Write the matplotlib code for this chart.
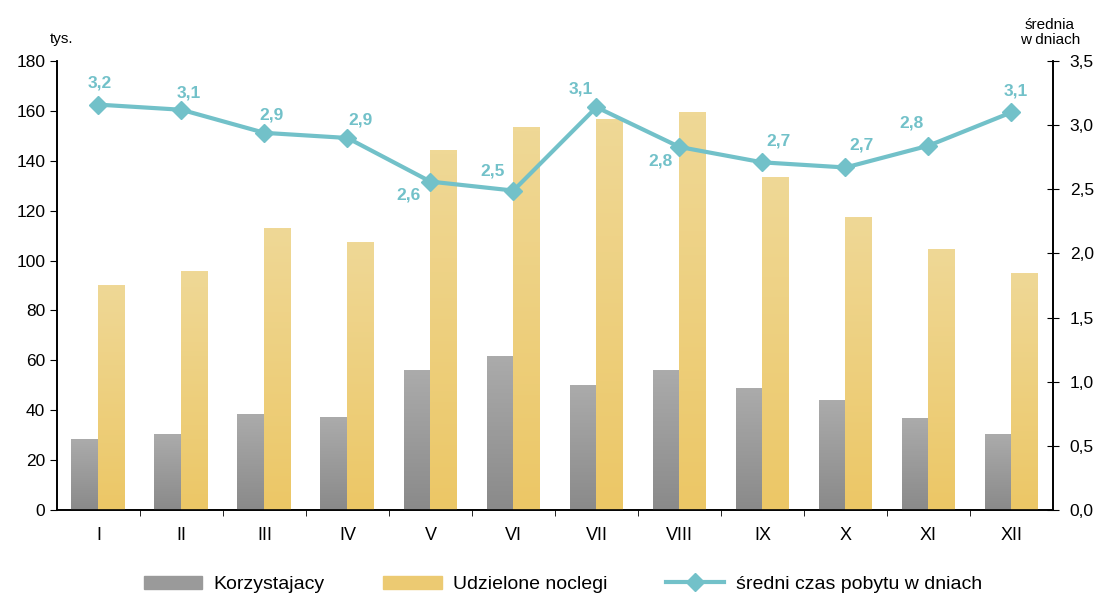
import numpy as np
import matplotlib.pyplot as plt
from matplotlib.patches import Patch
from matplotlib.lines import Line2D
from matplotlib.colors import LinearSegmentedColormap

plt.rcParams['font.family'] = ['Liberation Sans', 'DejaVu Sans']

months = ['I', 'II', 'III', 'IV', 'V', 'VI', 'VII', 'VIII', 'IX', 'X', 'XI', 'XII']
korzystajacy = [28.4, 30.4, 38.4, 37.2, 56.0, 61.6, 50.0, 56.0, 48.8, 44.0, 36.8, 30.4]
noclegi = [90.0, 95.6, 112.8, 107.2, 144.0, 153.2, 156.4, 159.2, 133.2, 117.2, 104.4, 94.8]
sredni = [3.16, 3.12, 2.94, 2.90, 2.56, 2.49, 3.14, 2.83, 2.71, 2.67, 2.84, 3.10]
sredni_lab = ['3,2', '3,1', '2,9', '2,9', '2,6', '2,5', '3,1', '2,8', '2,7', '2,7', '2,8', '3,1']
# label offsets in pixels (dx, dy)
lab_off = [(1, 22), (7, 17), (7, 18), (13, 18), (-22, -13), (-21, 20),
           (-16, 18), (-19, -14), (16, 21), (16, 22), (-17, 23), (4, 21)]

gray_c = '#9a9a9a'
yel_c = '#ecca72'
line_c = '#72c1c9'

fig = plt.figure(figsize=(11.04, 5.93), dpi=100)
ax = fig.add_axes([0.0516, 0.140, 0.9022, 0.7571])
ax2 = ax.twinx()

x = np.arange(len(months))
w = 0.325
b1 = ax.bar(x - w/2, korzystajacy, w, color=gray_c, zorder=2)
b2 = ax.bar(x + w/2, noclegi, w, color=yel_c, zorder=2)

# vertical gradient fill on bars
grad = np.linspace(0, 1, 100).reshape(-1, 1)
cm_gray = LinearSegmentedColormap.from_list('g', ['#8a8a8a', '#ababab'])
cm_yel = LinearSegmentedColormap.from_list('y', ['#ecc766', '#efd896'])
for bars, cm in ((b1, cm_gray), (b2, cm_yel)):
    for r in bars:
        x0, y0 = r.get_x(), r.get_y()
        ax.imshow(grad, extent=[x0, x0 + r.get_width(), y0, y0 + r.get_height()],
                  origin='lower', aspect='auto', cmap=cm, zorder=3)

ax.set_xlim(-0.5, 11.5)
ax.set_ylim(0, 180)
ax.set_yticks(range(0, 181, 20))
ax.set_xticks(x)
ax.set_xticklabels(months, fontsize=13)
ax.set_xticks(np.arange(0.5, 11.5, 1), minor=True)
ax.tick_params(axis='x', which='major', length=0, pad=12)
ax.tick_params(axis='x', which='minor', length=4, direction='out')
ax.tick_params(axis='y', labelsize=12.5, length=5, direction='out')

ax2.plot(x, sredni, color=line_c, lw=3, marker='D', ms=9, zorder=5)
for xi, v, s, (dx, dy) in zip(x, sredni, sredni_lab, lab_off):
    ax2.annotate(s, (xi, v), xytext=(dx, dy), textcoords='offset pixels',
                 ha='center', va='center', color=line_c, fontsize=12.5, fontweight='bold')
ax2.set_ylim(0, 3.5)
ax2.set_yticks(np.arange(0, 3.51, 0.5))
ax2.set_yticklabels([f'{t:.1f}'.replace('.', ',') for t in np.arange(0, 3.51, 0.5)])
ax2.tick_params(axis='y', labelsize=12.5, length=8, direction='inout', pad=8)

for a in (ax, ax2):
    a.spines['top'].set_visible(False)
    for s in ('left', 'right', 'bottom'):
        a.spines[s].set_linewidth(1.2)

fig.text(0.056, 0.928, 'tys.', fontsize=11, ha='center')
fig.text(0.951, 0.925, 'średnia\nw dniach', fontsize=11, ha='center', linespacing=1.1)

handles = [Patch(color=gray_c), Patch(color=yel_c),
           Line2D([], [], color=line_c, lw=3, marker='D', ms=9)]
labels = ['Korzystajacy', 'Udzielone noclegi', 'średni czas pobytu w dniach']
fig.legend(handles, labels, loc='lower center', bbox_to_anchor=(0.51, -0.03), ncol=3,
           frameon=False, fontsize=14, handlelength=3, columnspacing=3, handletextpad=0.6)

fig.savefig('out.png', dpi=100)
